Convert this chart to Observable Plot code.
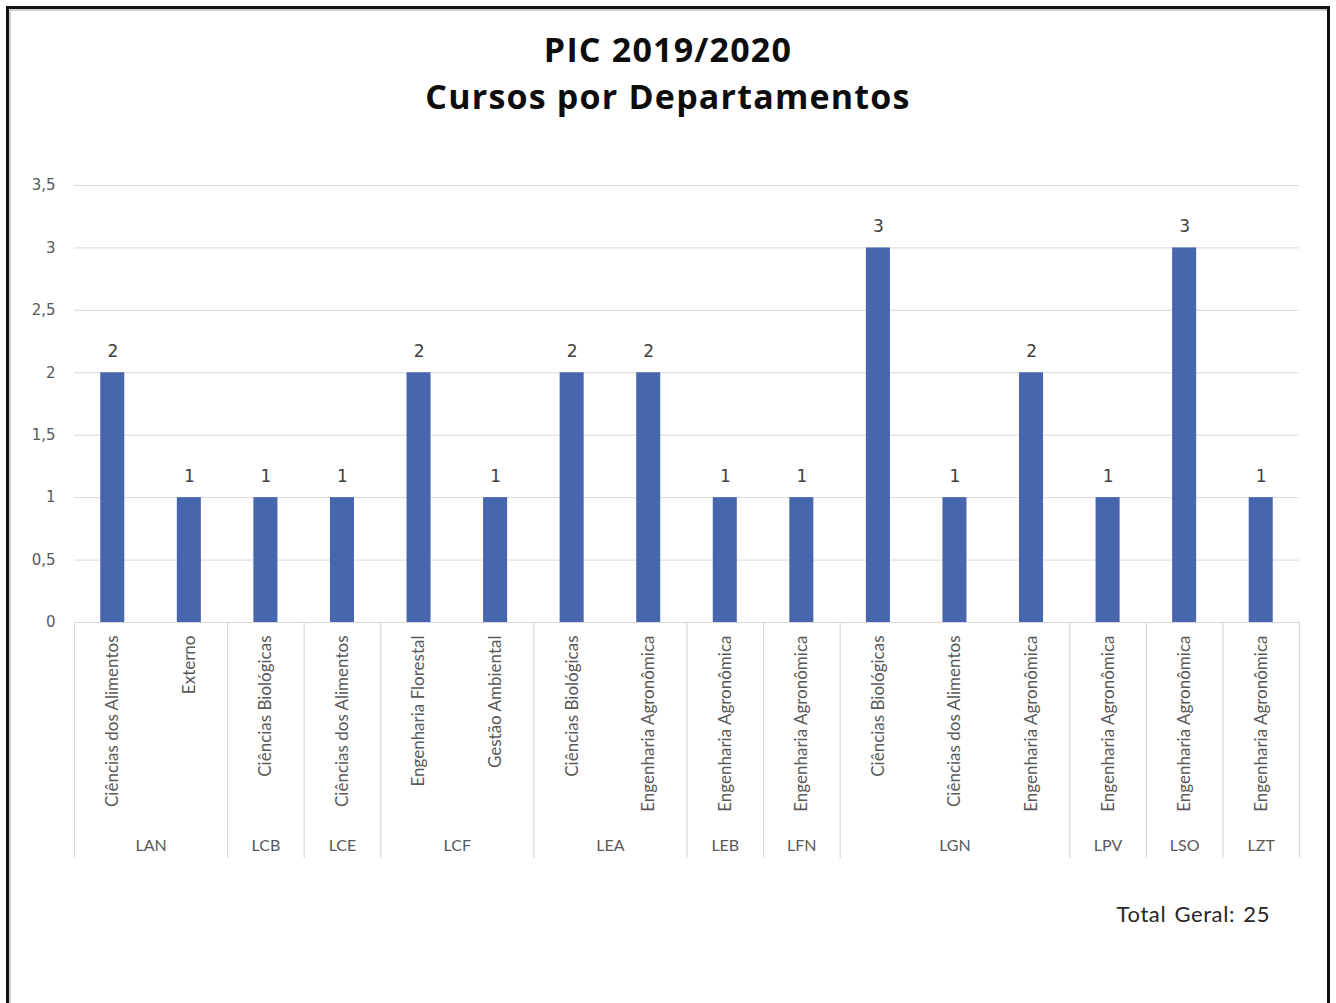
<!DOCTYPE html>
<html><head><meta charset="utf-8">
<script src="https://cdn.jsdelivr.net/npm/d3@7"></script>
<script src="https://cdn.jsdelivr.net/npm/@observablehq/plot@0.6"></script>
<style>
body{margin:0;background:#fff;width:1336px;height:1003px;overflow:hidden;position:relative;font-family:Lato,sans-serif}
#frame{position:absolute;left:6px;top:6px;width:1318px;height:1020px;border:3px solid #111;box-shadow:inset 2px 2px 0 #d0d0d0}
#title{position:absolute;left:0;width:1336px;top:26px;text-align:center;font-family:"Open Sans",sans-serif;font-weight:bold;font-size:34px;letter-spacing:1.2px;line-height:47px;color:#0d0d0d}
#chart{position:absolute;left:0;top:150px}
#total{position:absolute;right:66px;top:901px;font-family:Lato,sans-serif;font-size:22px;letter-spacing:0.6px;line-height:26px;color:#262626;word-spacing:2px}
</style></head>
<body>
<div id="frame"></div>
<div id="title">PIC 2019/2020<br>Cursos por Departamentos</div>
<div id="chart"></div>
<div id="total">Total Geral: 25</div>
<script>
const departments = ["LAN","LAN","LCB","LCE","LCF","LCF","LEA","LEA","LEB","LFN","LGN","LGN","LGN","LPV","LSO","LZT"];
const courses = ["Ciências dos Alimentos","Externo","Ciências Biológicas","Ciências dos Alimentos","Engenharia Florestal","Gestão Ambiental","Ciências Biológicas","Engenharia Agronômica","Engenharia Agronômica","Engenharia Agronômica","Ciências Biológicas","Ciências dos Alimentos","Engenharia Agronômica","Engenharia Agronômica","Engenharia Agronômica","Engenharia Agronômica"];
const values = [2,1,1,1,2,1,2,2,1,1,3,1,2,1,3,1];
const yTicks = [0,0.5,1,1.5,2,2.5,3,3.5];

const data = departments.map((d,i)=>({i, dept:d, course:courses[i], value:values[i]}));
const groups = d3.groups(data, d=>d.dept).map(([dept, rows])=>({dept, start: rows[0].i, end: rows[rows.length-1].i}));
const bounds = [-0.5, ...groups.map(g=>g.end+0.5)];
const W=1336, H=730, mt=35, mb=258;
const plotH = H-mt-mb;
const fmt = d => String(d).replace(".", ",");

const chart = Plot.plot({
  width:W, height:H, marginTop:mt, marginBottom:mb, marginLeft:74, marginRight:37,
  style:{background:"transparent", overflow:"visible"},
  x:{type:"linear", domain:[-0.5, data.length-0.5], axis:null},
  y:{domain:[0,3.5], axis:null},
  marks:[
    Plot.gridY(yTicks, {stroke:"#d9d9d9", strokeOpacity:1, strokeWidth:1}),
    Plot.axisY(yTicks, {tickSize:0, tickPadding:19, tickFormat:fmt, fontSize:15, fontFamily:"DejaVu Sans", fill:"#595959", label:null}),
    Plot.ruleX(bounds, {stroke:"#d9d9d9", strokeWidth:1.2, insetTop: plotH, insetBottom: -236}),
    Plot.rectY(data, {x1: d=>d.i-0.157, x2: d=>d.i+0.157, y:"value", fill:"#4866ae"}),
    Plot.text(data, {x:"i", y:"value", text:d=>fmt(d.value), dy:-21, fontSize:17, fontFamily:"DejaVu Sans", fill:"#404040"}),
    Plot.text(data, {x:"i", y:()=>0, text:"course", rotate:-90, textAnchor:"end", dy:13, fontSize:17, fontFamily:"Lato", fill:"#595959"}),
    Plot.text(groups, {x:d=>(d.start+d.end)/2, y:()=>0, text:"dept", dy:223, fontSize:16, fontFamily:"Lato", fill:"#595959"})
  ]
});
document.getElementById("chart").appendChild(chart);
</script>
</body></html>
